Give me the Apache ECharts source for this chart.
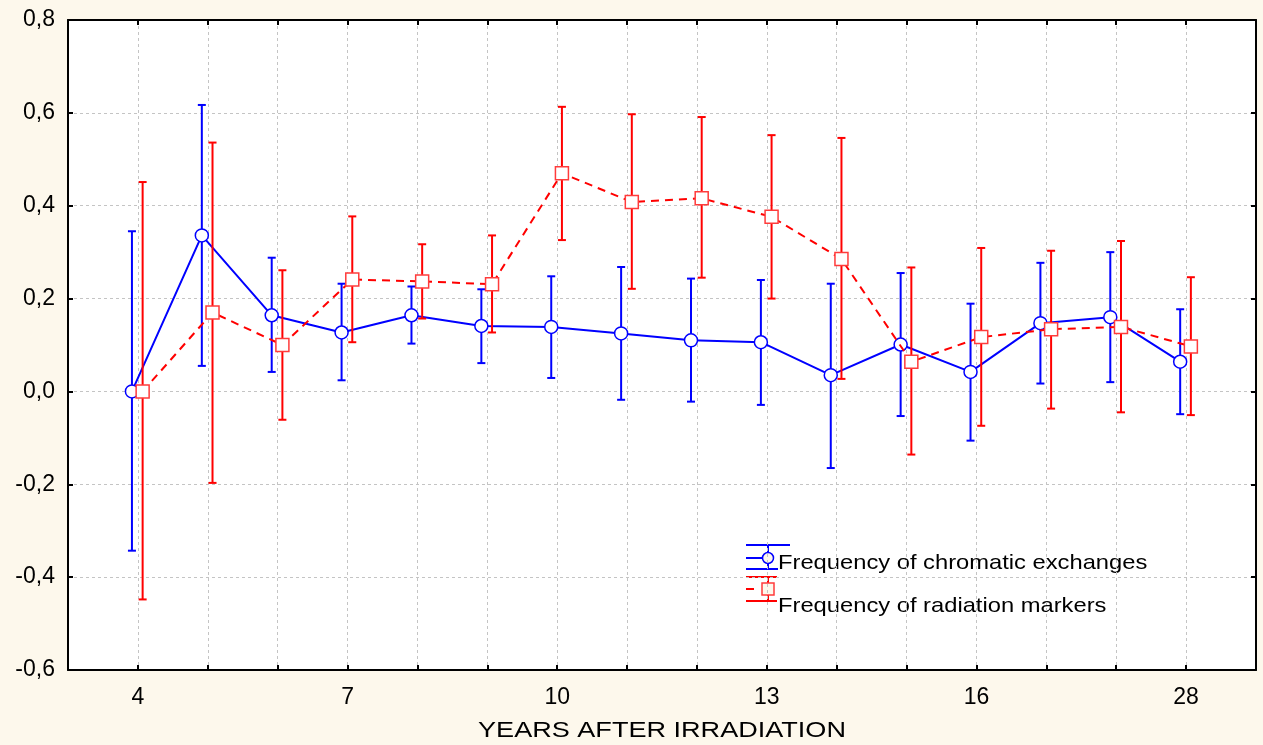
<!DOCTYPE html>
<html>
<head>
<meta charset="utf-8">
<script src="https://cdn.jsdelivr.net/npm/echarts@6/dist/echarts.min.js"></script>
<style>
  html, body { margin: 0; padding: 0; background: #fdf8ec; }
  #chart { width: 1263px; height: 745px; }
</style>
</head>
<body>
<div id="chart"></div>
<script>
// Years after irradiation (only every third one is labelled on the axis)
const years = ['4', '5', '6', '7', '8', '9', '10', '11', '12', '13', '14', '15', '16', '17', '20', '28'];

// Frequency of chromatic exchanges: mean and confidence limits
const exchMean  = [0.000, 0.336, 0.164, 0.127, 0.164, 0.141, 0.139, 0.125, 0.110, 0.106, 0.035, 0.101, 0.042, 0.147, 0.160, 0.064];
const exchLow   = [-0.343, 0.055, 0.042, 0.024, 0.103, 0.061, 0.029, -0.018, -0.022, -0.029, -0.165, -0.053, -0.106, 0.017, 0.020, -0.049];
const exchHigh  = [0.345, 0.617, 0.288, 0.232, 0.226, 0.220, 0.248, 0.268, 0.243, 0.240, 0.232, 0.255, 0.189, 0.277, 0.300, 0.177];

// Frequency of radiation markers: mean and confidence limits
const markMean  = [0.000, 0.170, 0.100, 0.241, 0.237, 0.231, 0.470, 0.408, 0.416, 0.376, 0.285, 0.064, 0.117, 0.134, 0.139, 0.097];
const markLow   = [-0.448, -0.197, -0.061, 0.106, 0.157, 0.127, 0.326, 0.221, 0.245, 0.200, 0.027, -0.136, -0.074, -0.037, -0.045, -0.051];
const markHigh  = [0.451, 0.536, 0.261, 0.377, 0.317, 0.336, 0.613, 0.597, 0.591, 0.552, 0.546, 0.267, 0.309, 0.303, 0.324, 0.246];

const yTicks = { min: -0.6, max: 0.8, step: 0.2 };

const BLUE = '#0000ff';
const RED = '#ff0000';
const BG = '#fdf8ec';
const FONT = '"Liberation Sans", Arial, sans-serif';

// the two groups are drawn slightly apart around each year
const blueShift = -0.085;
const redShift = 0.068;

function points(means, shift) {
  return means.map((m, i) => [i + shift, m]);
}
function bars(lows, highs, shift) {
  return lows.map((lo, i) => [i + shift, lo, highs[i]]);
}

function errorBar(color) {
  return function (params, api) {
    const x = api.value(0);
    const lo = api.coord([x, api.value(1)]);
    const hi = api.coord([x, api.value(2)]);
    const cap = 4;
    const style = { stroke: color, lineWidth: 2 };
    return {
      type: 'group',
      children: [
        { type: 'line', shape: { x1: lo[0], y1: lo[1], x2: hi[0], y2: hi[1] }, style },
        { type: 'line', shape: { x1: hi[0] - cap, y1: hi[1], x2: hi[0] + cap, y2: hi[1] }, style },
        { type: 'line', shape: { x1: lo[0] - cap, y1: lo[1], x2: lo[0] + cap, y2: lo[1] }, style }
      ]
    };
  };
}

function fmtY(v) {
  if (Math.abs(v) < 1e-9) v = 0;
  return v.toFixed(1).replace('.', ',');
}

const frameLine = { show: true, onZero: false, lineStyle: { color: '#000', width: 2 } };
const inTick = { show: true, inside: true, length: 5, lineStyle: { color: '#000', width: 2 } };
const gridLine = { show: true, lineStyle: { color: '#c4c4c4', width: 1, type: [3, 3] } };

const chart = echarts.init(document.getElementById('chart'), null, { renderer: 'canvas' });

// legend block, drawn inside the plot on a white patch
const legendGroup = {
  type: 'group',
  z: 100,
  children: [
    { type: 'rect', shape: { x: 745, y: 545, width: 459, height: 78 }, style: { fill: '#ffffff' } },
    // chromatic exchanges entry
    { type: 'line', shape: { x1: 746, y1: 545, x2: 790, y2: 545 }, style: { stroke: BLUE, lineWidth: 2 } },
    { type: 'line', shape: { x1: 746, y1: 569, x2: 778, y2: 569 }, style: { stroke: BLUE, lineWidth: 2 } },
    { type: 'line', shape: { x1: 746, y1: 558, x2: 768, y2: 558 }, style: { stroke: BLUE, lineWidth: 2 } },
    { type: 'line', shape: { x1: 768, y1: 545, x2: 768, y2: 569 }, style: { stroke: BLUE, lineWidth: 2 } },
    { type: 'circle', shape: { cx: 768, cy: 558, r: 5.5 }, style: { fill: BG, stroke: BLUE, lineWidth: 1.5 } },
    {
      type: 'text', x: 778, y: 563, scaleX: 1.13,
      style: { x: 0, y: 0, text: 'Frequency of chromatic exchanges', font: '21px ' + FONT, fill: '#000', verticalAlign: 'middle', align: 'left' }
    },
    // radiation markers entry
    { type: 'line', shape: { x1: 746, y1: 577, x2: 777, y2: 577 }, style: { stroke: RED, lineWidth: 2 } },
    { type: 'line', shape: { x1: 746, y1: 601, x2: 777, y2: 601 }, style: { stroke: RED, lineWidth: 2 } },
    { type: 'line', shape: { x1: 746, y1: 589, x2: 754, y2: 589 }, style: { stroke: RED, lineWidth: 2 } },
    { type: 'line', shape: { x1: 768, y1: 577, x2: 768, y2: 601 }, style: { stroke: RED, lineWidth: 2 } },
    { type: 'rect', shape: { x: 762, y: 583, width: 12, height: 12 }, style: { fill: BG, stroke: '#ff3b3b', lineWidth: 1.5 } },
    {
      type: 'text', x: 778, y: 606, scaleX: 1.13,
      style: { x: 0, y: 0, text: 'Frequency of radiation markers', font: '21px ' + FONT, fill: '#000', verticalAlign: 'middle', align: 'left' }
    }
  ]
};

const axisTitle = {
  type: 'text', x: 662, y: 731, scaleX: 1.23, z: 100,
  style: { x: 0, y: 0, text: 'YEARS AFTER IRRADIATION', font: '22px ' + FONT, fill: '#000', align: 'center', verticalAlign: 'middle' }
};

chart.setOption({
  backgroundColor: BG,
  animation: false,
  grid: {
    left: 68, right: 7, top: 20, bottom: 75,
    show: true, backgroundColor: '#ffffff', borderWidth: 0
  },
  xAxis: [
    {
      type: 'value', position: 'bottom', min: -1, max: years.length, interval: 1,
      axisLine: frameLine, axisTick: inTick, splitLine: gridLine,
      axisLabel: {
        color: '#000', fontSize: 23, fontFamily: FONT, margin: 16,
        formatter: v => {
          const i = Math.round(v);
          return (i >= 0 && i < years.length && i % 3 === 0) ? years[i] : '';
        }
      }
    },
    {
      type: 'value', position: 'top', min: -1, max: years.length, interval: 1,
      axisLine: frameLine, axisTick: inTick, splitLine: { show: false }, axisLabel: { show: false }
    }
  ],
  yAxis: [
    {
      type: 'value', position: 'left', min: yTicks.min, max: yTicks.max, interval: yTicks.step,
      axisLine: frameLine, axisTick: inTick, splitLine: gridLine,
      axisLabel: { color: '#000', fontSize: 23, fontFamily: FONT, margin: 13, formatter: fmtY }
    },
    {
      type: 'value', position: 'right', min: yTicks.min, max: yTicks.max, interval: yTicks.step,
      axisLine: frameLine, axisTick: inTick, splitLine: { show: false }, axisLabel: { show: false }
    }
  ],
  series: [
    {
      name: 'exchanges-ci', type: 'custom', renderItem: errorBar(BLUE),
      data: bars(exchLow, exchHigh, blueShift), z: 3, encode: { x: 0, y: [1, 2] }
    },
    {
      name: 'Frequency of chromatic exchanges', type: 'line', data: points(exchMean, blueShift),
      symbol: 'circle', symbolSize: 13, showAllSymbol: true, z: 4,
      lineStyle: { color: BLUE, width: 2 },
      itemStyle: { color: '#ffffff', borderColor: BLUE, borderWidth: 1.5 }
    },
    {
      name: 'markers-ci', type: 'custom', renderItem: errorBar(RED),
      data: bars(markLow, markHigh, redShift), z: 5, encode: { x: 0, y: [1, 2] }
    },
    {
      name: 'Frequency of radiation markers', type: 'line', data: points(markMean, redShift),
      symbol: 'rect', symbolSize: 13, showAllSymbol: true, z: 6,
      lineStyle: { color: RED, width: 2, type: [8, 6] },
      itemStyle: { color: '#ffffff', borderColor: '#ff3b3b', borderWidth: 1.5 }
    }
  ],
  graphic: [legendGroup, axisTitle]
});
</script>
</body>
</html>
